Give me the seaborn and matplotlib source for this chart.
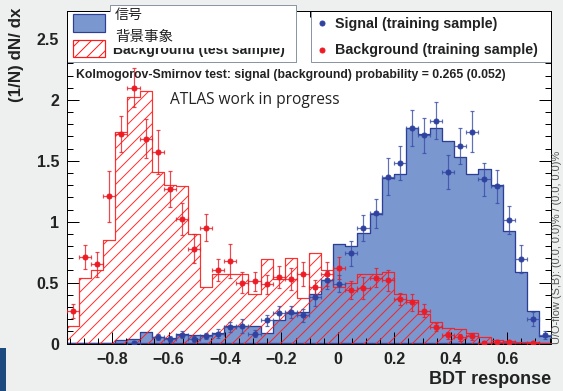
import numpy as np
import pandas as pd
import matplotlib
matplotlib.use("Agg")
import matplotlib.pyplot as plt
import seaborn as sns
from matplotlib.patches import Rectangle
from matplotlib.lines import Line2D
from matplotlib.ticker import MultipleLocator, FixedLocator, FixedFormatter

# ---------------------------------------------------------------- data
x_min, x_max, n_bins = -0.96, 0.755, 40

# normalised BDT response, test samples (histograms)
sig_test = [0, 0, 0, 0, 0.026, 0.040, 0.097, 0.056, 0.043, 0.075,
            0.070, 0.070, 0.084, 0.146, 0.146, 0.146, 0.084, 0.19, 0.25, 0.26,
            0.41, 0.52, 0.82, 0.80, 0.91, 1.06, 1.36, 1.39, 1.77, 1.72,
            1.77, 1.66, 1.53, 1.39, 1.43, 1.30, 0.92, 0.585, 0.27, 0.06]
bkg_test = [0.14, 0.54, 0.60, 0.85, 1.74, 2.02, 2.07, 1.41, 1.30, 1.29,
            0.90, 0.46, 0.57, 0.57, 0.57, 0.41, 0.69, 0.53, 0.70, 0.37,
            0.74, 0.60, 0.46, 0.50, 0.57, 0.57, 0.59, 0.41, 0.36, 0.24,
            0.18, 0.13, 0.12, 0.09, 0.05, 0.03, 0.02, 0.01, 0.01, 0.005]

# training samples (points with errors)
nan = np.nan
sig_train = [nan, nan, nan, nan, nan, 0.008, nan, 0.053, 0.035, 0.072,
             0.036, 0.062, 0.080, 0.135, 0.143, 0.082, 0.19, 0.25, 0.26, 0.23,
             0.38, 0.52, 0.49, 0.74, 0.95, 1.07, 1.37, 1.48, 1.77, 1.71,
             1.83, 1.41, 1.62, 1.74, 1.35, 1.29, 1.015, 0.695, 0.20, 0.07]
sig_train_err = [0, 0, 0, 0, 0, 0.01, 0, 0.027, 0.025, 0.03,
                 0.025, 0.025, 0.035, 0.04, 0.055, 0.03, 0.047, 0.055, 0.05, 0.057,
                 0.07, 0.075, 0.07, 0.10, 0.105, 0.12, 0.15, 0.14, 0.15, 0.145,
                 0.155, 0.14, 0.15, 0.165, 0.135, 0.135, 0.115, 0.115, 0.06, 0.03]
bkg_train = [0.266, 0.71, 0.65, 1.21, 1.72, 2.10, 1.68, 1.57, 1.27, 1.02,
             0.78, 0.95, 0.60, 0.68, 0.50, 0.51, 0.485, 0.545, 0.53, 0.57,
             0.46, 0.57, 0.62, 0.44, 0.455, 0.54, 0.52, 0.365, 0.34, 0.27,
             0.135, 0.066, 0.052, 0.058, 0.008, 0.016, 0.01, nan, 0.006, nan]
bkg_train_err = [0.06, 0.10, 0.10, 0.21, 0.15, 0.16, 0.16, 0.18, 0.15, 0.13,
                 0.12, 0.11, 0.09, 0.14, 0.085, 0.08, 0.08, 0.09, 0.09, 0.10,
                 0.06, 0.10, 0.09, 0.075, 0.09, 0.08, 0.085, 0.05, 0.07, 0.055,
                 0.035, 0.03, 0.03, 0.03, 0.01, 0.01, 0.01, 0, 0.01, 0]

x_ticks = [-0.8, -0.6, -0.4, -0.2, 0.0, 0.2, 0.4, 0.6]
x_tick_labels = ["\u22120.8", "\u22120.6", "\u22120.4", "\u22120.2", "0", "0.2", "0.4", "0.6"]
y_ticks = [0, 0.5, 1, 1.5, 2, 2.5]
y_tick_labels = ["0", "0.5", "1", "1.5", "2", "2.5"]

ks_text = "Kolmogorov-Smirnov test: signal (background) probability = 0.265 (0.052)"
overflow_text = "U/O-flow (S,B): (0.0, 0.0)% / (0.0, 0.0)%"

# ---------------------------------------------------------------- style
W, H, DPI = 563, 391, 72
plt.rcParams["font.family"] = ["Liberation Sans", "DejaVu Sans"]
plt.rcParams["hatch.linewidth"] = 1.0

SIG_FILL = "#7b97d0"
SIG_LINE = "#2d3f95"
SIG_PT = "#2f42a0"
BKG_LINE = "#ff1a1a"
BKG_PT = "#ee1b24"
BOX_EDGE = "#8a96a3"
CJK = ["Noto Sans CJK JP", "DejaVu Sans"]
HATCH = "//"


def fx(px):
    return px / W


def fy(py):
    return 1 - py / H


edges = np.linspace(x_min, x_max, n_bins + 1)
centers = 0.5 * (edges[:-1] + edges[1:])
half_w = 0.5 * (edges[1] - edges[0])
df = pd.DataFrame({"bdt": centers, "sig": sig_test, "bkg": bkg_test})

fig = plt.figure(figsize=(W / DPI, H / DPI), dpi=DPI, facecolor="#eef0f0")
ax = fig.add_axes([fx(67), fy(343.5), fx(551) - fx(67), fy(11) - fy(343.5)])
ax.set_facecolor("white")

# signal test histogram (filled)
sns.histplot(data=df, x="bdt", weights="sig", bins=n_bins,
             binrange=(x_min, x_max), element="step", fill=True,
             color=SIG_FILL, alpha=1.0, edgecolor=SIG_LINE, linewidth=1.3,
             ax=ax, zorder=1)
# background test histogram (hatched)
sns.histplot(data=df, x="bdt", weights="bkg", bins=n_bins,
             binrange=(x_min, x_max), element="step", fill=True,
             color=BKG_LINE, ax=ax, zorder=2)
bkg_coll = ax.collections[-1]
bkg_coll.set_facecolor("none")
bkg_coll.set_edgecolor(BKG_LINE)
bkg_coll.set_hatch(HATCH)
bkg_coll.set_linewidth(1.2)
bkg_coll.set_alpha(0.9)

# training samples
ax.errorbar(centers, sig_train, xerr=half_w, yerr=sig_train_err, fmt="o",
            ms=5, color=SIG_PT, ecolor=(0.22, 0.3, 0.65, 0.8), elinewidth=1.2,
            capsize=2, capthick=1.2, zorder=4)
ax.errorbar(centers, bkg_train, xerr=half_w, yerr=bkg_train_err, fmt="o",
            ms=5, color=BKG_PT, ecolor=(0.93, 0.1, 0.14, 0.8), elinewidth=1.2,
            capsize=2, capthick=1.2, zorder=4)

# axes
ax.set_xlim(x_min, x_max)
ax.set_ylim(0, 2.73)
ax.set_xlabel("")
ax.set_ylabel("")
ax.xaxis.set_major_locator(FixedLocator(x_ticks))
ax.xaxis.set_major_formatter(FixedFormatter(x_tick_labels))
ax.xaxis.set_minor_locator(MultipleLocator(0.05))
ax.yaxis.set_major_locator(FixedLocator(y_ticks))
ax.yaxis.set_major_formatter(FixedFormatter(y_tick_labels))
ax.yaxis.set_minor_locator(MultipleLocator(0.1))
ax.tick_params(which="both", direction="in", top=True, right=True,
               width=1.0, color="black")
ax.tick_params(which="major", length=12)
ax.tick_params(which="minor", length=6)
ax.tick_params(axis="x", which="major", pad=8, labelsize=16)
ax.tick_params(axis="y", which="major", pad=8, labelsize=16)
for lab in ax.get_xticklabels() + ax.get_yticklabels():
    lab.set_fontweight("bold")
    lab.set_color("#222222")
for sp in ax.spines.values():
    sp.set_linewidth(1.0)
    sp.set_color("black")

# legend frames (drawn inside the axes, under the tick marks)
def fig_rect(x0, y0, x1, y1, **kw):
    return Rectangle((fx(x0), fy(y1)), fx(x1) - fx(x0), fy(y0) - fy(y1),
                     transform=fig.transFigure, clip_on=False, **kw)


ax.add_patch(fig_rect(67, 11, 296, 62, facecolor="white", edgecolor=BOX_EDGE,
                      linewidth=1.0, zorder=2.2))
ax.add_patch(fig_rect(73, 14, 105, 32, facecolor=SIG_FILL, edgecolor=SIG_LINE,
                      linewidth=1.2, zorder=2.3))
ax.add_patch(fig_rect(73, 40, 105, 57, facecolor="white", edgecolor=BKG_LINE,
                      hatch=HATCH, linewidth=1.2, zorder=2.3))
ax.add_patch(fig_rect(311, 11, 551, 62, facecolor="white", edgecolor=BOX_EDGE,
                      linewidth=1.0, zorder=2.2))
ax.add_line(Line2D([fx(322)], [fy(23)], marker="o", ms=5, color=SIG_PT,
                   transform=fig.transFigure, clip_on=False, zorder=2.3))
ax.add_line(Line2D([fx(322)], [fy(50)], marker="o", ms=5, color=BKG_PT,
                   transform=fig.transFigure, clip_on=False, zorder=2.3))

fig.text(fx(335), fy(24), "Signal (training sample)", fontsize=14.3,
         fontweight="bold", color="#222222", va="center", ha="left")
fig.text(fx(335), fy(50), "Background (training sample)", fontsize=14.3,
         fontweight="bold", color="#222222", va="center", ha="left")
fig.text(fx(113), fy(54), "Background (test sample)", fontsize=14,
         fontweight="bold", color="#222222", va="baseline", ha="left")

# relabelled entries on a white panel
fig.add_artist(fig_rect(110, 5, 296, 47.5, facecolor="white", edgecolor="none",
                        zorder=5))
fig.add_artist(Line2D([fx(110), fx(110), fx(296), fx(296)],
                      [fy(11), fy(5), fy(5), fy(62)], color=BOX_EDGE,
                      linewidth=1.0, transform=fig.transFigure, zorder=5.1))
fig.text(fx(115), fy(15), "信号", family=CJK, fontsize=14, color="#222222",
         va="center", ha="left", zorder=6)
fig.text(fx(115), fy(37), "背景事象", family=CJK, fontsize=14.5,
         color="#222222", va="center", ha="left", zorder=6)

# annotations
fig.text(fx(76), fy(75), ks_text, fontsize=12.3, fontweight="bold",
         color="#222222", va="center", ha="left", zorder=6)
fig.text(fx(170), fy(100), "ATLAS work in progress",
         family=["Open Sans", "DejaVu Sans"], fontsize=15.5, color="#222222",
         va="center", ha="left", zorder=6)

fig.text(fx(17), fy(8), "(1/N) dN/ dx", fontsize=17, fontweight="bold",
         color="#222222", rotation=90, ha="center", va="top")
fig.text(fx(551), fy(379), "BDT response", fontsize=18, fontweight="bold",
         color="#222222", ha="right", va="center")
fig.text(fx(562.5), fy(344), overflow_text, fontsize=11, color="#555555",
         rotation=90, ha="right", va="bottom")

# side bar
fig.add_artist(fig_rect(0, 348, 6, 391, facecolor="#1d4b7f", edgecolor="none",
                        zorder=1))

fig.savefig("out.png", dpi=DPI, facecolor=fig.get_facecolor())
